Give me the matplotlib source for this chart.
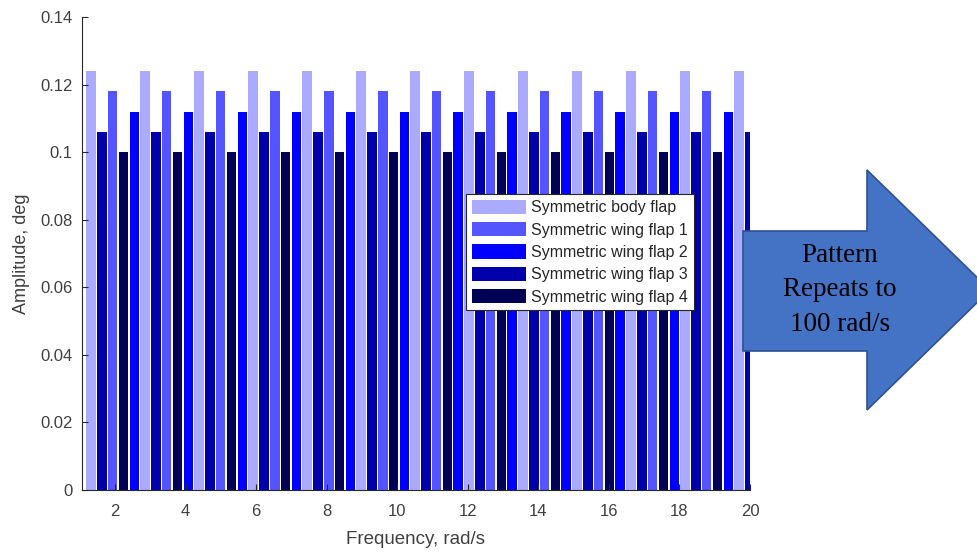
import matplotlib.pyplot as plt
from matplotlib.patches import Polygon

plt.rcParams['font.family'] = ['Liberation Sans', 'DejaVu Sans']

labels = ['Symmetric body flap', 'Symmetric wing flap 1', 'Symmetric wing flap 2',
          'Symmetric wing flap 3', 'Symmetric wing flap 4']
colors = ['#aaaaff', '#5555ff', '#0000ff', '#0000aa', '#000055']
amplitudes = [0.124, 0.118, 0.112, 0.106, 0.100]

# frequencies (rad/s) at which each surface is excited
freq_body = [1.32, 2.85, 4.38, 5.91, 7.44, 8.98, 10.51, 12.04, 13.57, 15.10, 16.63, 18.16, 19.69]
freq_wing1 = [1.93, 3.46, 4.99, 6.53, 8.06, 9.59, 11.12, 12.65, 14.18, 15.71, 17.24, 18.77]
freq_wing2 = [2.55, 4.08, 5.61, 7.14, 8.67, 10.20, 11.73, 13.26, 14.79, 16.32, 17.86, 19.39]
freq_wing3 = [1.63, 3.16, 4.69, 6.22, 7.75, 9.28, 10.81, 12.34, 13.87, 15.41, 16.94, 18.47, 20.00]
freq_wing4 = [2.24, 3.77, 5.30, 6.83, 8.36, 9.89, 11.43, 12.96, 14.49, 16.02, 17.55, 19.08]
freqs = [freq_body, freq_wing1, freq_wing2, freq_wing3, freq_wing4]

xticks = [2, 4, 6, 8, 10, 12, 14, 16, 18, 20]
yticks = [0, 0.02, 0.04, 0.06, 0.08, 0.1, 0.12, 0.14]
ytick_labels = ['0', '0.02', '0.04', '0.06', '0.08', '0.1', '0.12', '0.14']

fig = plt.figure(figsize=(9.77, 5.52), dpi=100)
ax = fig.add_axes([82 / 977, 1 - 490 / 552, 668 / 977, 473 / 552])

for f, a, c, lab in zip(freqs, amplitudes, colors, labels):
    ax.bar(f, [a] * len(f), width=0.27, color=c, label=lab, linewidth=0)

ax.set_xlim(1.065, 20.0)
ax.set_ylim(0, 0.14)
ax.set_xticks(xticks)
ax.set_yticks(yticks)
ax.set_yticklabels(ytick_labels)
ax.tick_params(direction='in', length=4, colors='#262626', labelsize=12,
               labelcolor='#404040')
ax.tick_params(axis='x', pad=10)
ax.tick_params(axis='y', pad=7)
for s in ['top', 'right']:
    ax.spines[s].set_visible(False)
for s in ['left', 'bottom']:
    ax.spines[s].set_color('#262626')
    ax.spines[s].set_linewidth(0.8)

ax.set_xlabel('Frequency, rad/s', fontsize=13.5, color='#404040', labelpad=9)
ax.set_ylabel('Amplitude, deg', fontsize=13, color='#404040', labelpad=7)

leg = ax.legend(loc='upper left', bbox_to_anchor=(466 / 977, 1 - 194 / 552),
                bbox_transform=fig.transFigure, fontsize=11.5, frameon=True,
                fancybox=False, borderpad=0.35, labelspacing=0.42,
                handlelength=3.4, handleheight=1.0, handletextpad=0.35,
                borderaxespad=0)
leg.get_frame().set_edgecolor('#262626')
leg.get_frame().set_linewidth(0.8)
leg.get_frame().set_alpha(1)
for t in leg.get_texts():
    t.set_color('#262626')

# "pattern repeats" arrow
pts = [(743, 231), (867, 231), (867, 170), (990, 290), (867, 410), (867, 351), (743, 351)]
arrow = Polygon([(x / 977, 1 - y / 552) for x, y in pts], closed=True,
                transform=fig.transFigure, facecolor='#4472c4', edgecolor='#2f528f',
                linewidth=1.2, clip_on=False)
fig.patches.append(arrow)
fig.text(840 / 977, 1 - 290 / 552, 'Pattern\nRepeats to\n100 rad/s', ha='center',
         va='center', fontsize=19.5, family='Liberation Serif', linespacing=1.5,
         color='black')

fig.savefig('out.png', dpi=100)
